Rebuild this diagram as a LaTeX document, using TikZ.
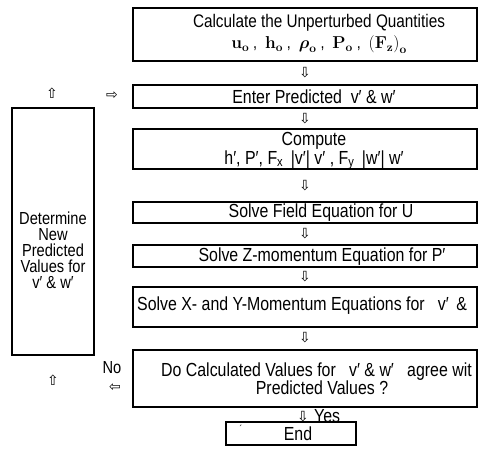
\documentclass[tikz,border=0pt]{standalone}
\usepackage{amsmath}
\usepackage[no-math]{fontspec}
\setmainfont{Liberation Sans}[FakeStretch=0.84]
\newfontfamily\arrowfont{DejaVu Sans}
\newcommand{\txtsize}{\fontsize{19}{15.5}\selectfont}
\newcommand{\lsize}{\fontsize{17.5}{16}\selectfont}
\begin{document}
\begin{tikzpicture}[x=1bp,y=-1bp,
  box/.style={draw, line width=2bp, inner sep=0pt, minimum width=344bp},
  arr/.style={font=\arrowfont\fontsize{14}{14}\selectfont, inner sep=0pt},
  lbl/.style={font=\txtsize, inner sep=0pt, align=center}]
\useasboundingbox (0,0) rectangle (480,450);
% main column boxes
\node[box, minimum height=53bp] (b1) at (305,34.5) {};
\node[box, minimum height=23bp] (b2) at (305,96.5) {};
\node[box, minimum height=40bp] (b3) at (305,149) {};
\node[box, minimum height=21bp] (b4) at (305,212.5) {};
\node[box, minimum height=22bp] (b5) at (305,256) {};
\node[box, minimum height=40bp] (b6) at (305,307) {};
\node[box, minimum height=57bp] (b7) at (305,378.5) {};
\node[box, minimum width=130bp, minimum height=23bp] (e) at (291,433.5) {};
% texts
\node[lbl, font=\fontsize{18.3}{21}\selectfont] (t1) at (319,34) {Calculate the Unperturbed Quantities\\[0pt]
  {\fontsize{17}{17}\selectfont $\mathbf{u}_\mathbf{o}$\ ,\ \ $\mathbf{h}_\mathbf{o}$\ ,\ \ $\boldsymbol{\rho}_\mathbf{o}$\ ,\ \ $\mathbf{P}_\mathbf{o}$\ ,\ \ $\mathbf{(F_z)}_\mathbf{o}$}};
\node[lbl] (t2) at (314,97) {Enter Predicted \ v′ \& w′};
\node[lbl] (t3) at (314,151) {Compute\\h′, P′, F\textsubscript{x} \,|v′| v′ , F\textsubscript{y} \,|w′| w′};
\node[lbl] (t4) at (321,213) {Solve Field Equation for U};
\node[lbl] (t5) at (322,256.5) {Solve Z-momentum Equation for P′};
\node[lbl] (te) at (298,434) {End};
\node[lbl, font=\fontsize{10}{10}\selectfont] (tick) at (241,429) {´};
\node[lbl, anchor=west] (t6) at (137,306) {Solve X- and Y-Momentum Equations for \ \ v′ \,\&};
\node[lbl, anchor=west] (t7a) at (161,372) {Do Calculated Values for \ \ v′ \& w′ \ \ agree wit};
\node[lbl] (t7b) at (322,388) {Predicted Values ?};
% down arrows
\node[arr] (a1) at (305,73) {⇩};
\node[arr] (a2) at (305,119) {⇩};
\node[arr] (a3) at (305,186) {⇩};
\node[arr] (a4) at (305,233.5) {⇩};
\node[arr] (a5) at (305,277) {⇩};
\node[arr] (a6) at (305,338) {⇩};
\node[arr] (a7) at (303,417) {⇩};
\node[lbl, anchor=west] (yes) at (314,416) {Yes};
% left loop
\node[box, minimum width=82bp, minimum height=247bp] (L) at (53,231.5) {};
\node[lbl, font=\lsize] (tl) at (53,250) {Determine\\New\\Predicted\\Values for\\v′ \& w′};
\node[arr] (up1) at (52,93) {⇧};
\node[arr] (r1) at (112,96) {⇨};
\node[arr] (up2) at (53,380) {⇧};
\node[lbl, font=\lsize] (no) at (112,368) {No};
\node[arr] (l1) at (115,388) {⇦};
\end{tikzpicture}
\end{document}
